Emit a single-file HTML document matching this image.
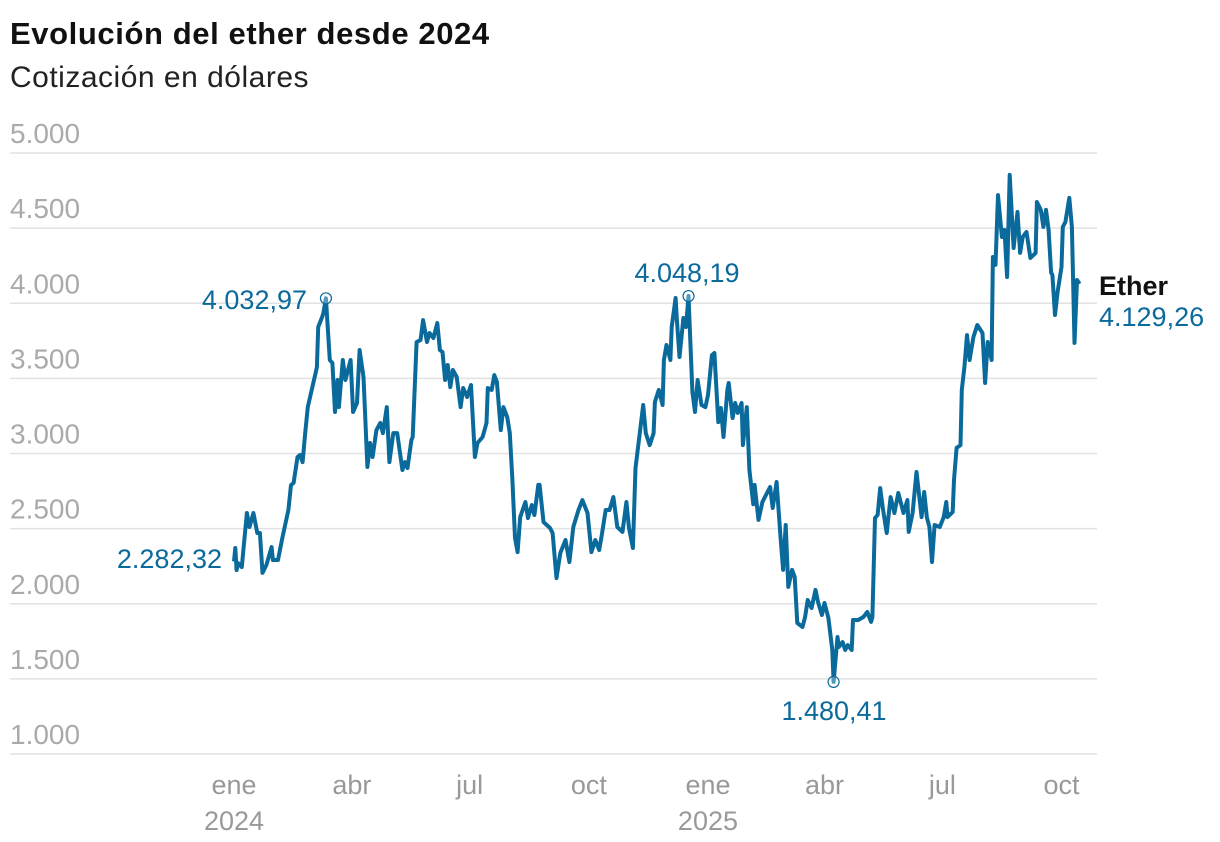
<!DOCTYPE html>
<html lang="es"><head><meta charset="utf-8">
<style>
html,body{margin:0;padding:0;background:#fff;}
body{width:1220px;height:842px;overflow:hidden;font-family:"Liberation Sans",sans-serif;}
svg{display:block;}
</style></head>
<body>
<svg id="chart" width="1220" height="842">
<text x="10" y="44" font-size="31" font-weight="bold" fill="#111" letter-spacing="0.6">Evolución del ether desde 2024</text>
<text x="10" y="87" font-size="30" fill="#222" letter-spacing="0.5">Cotización en dólares</text>
<g id="grid"></g><g id="xaxis"></g><g id="series"></g><g id="annot"></g>
</svg>
<script>
const yTicks=[1000,1500,2000,2500,3000,3500,4000,4500,5000];
const yTickLabels=["1.000","1.500","2.000","2.500","3.000","3.500","4.000","4.500","5.000"];
const xTickDays=[0,91,182,274,366,456,547,639];
const xTickLabels=["ene","abr","jul","oct","ene","abr","jul","oct"];
const xTickYears=["2024","","","","2025","","",""];
const days=[0,1,2,3,6,7,10,12,15,18,20,22,25,29,30,34,37,39,42,44,46,49,51,53,55,57,60,63,64,65,68,69,71,74,76,78,80,81,84,86,90,92,95,97,100,103,105,107,110,113,115,118,120,123,126,130,132,134,137,138,141,144,146,149,151,154,157,159,161,163,165,167,169,172,175,177,180,183,186,188,192,195,196,199,201,203,206,208,211,213,215,217,219,221,225,227,230,232,235,236,239,244,246,249,252,256,259,262,266,269,273,276,279,282,284,287,290,293,296,300,303,305,308,310,313,316,318,321,324,325,328,331,332,334,337,338,341,342,344,347,349,351,354,356,358,361,364,366,369,371,374,376,378,381,382,385,387,389,392,393,396,398,401,402,405,408,412,414,416,419,422,424,426,428,431,433,435,439,441,443,446,449,451,454,456,459,462,463,466,467,470,472,474,477,478,482,486,489,492,493,495,497,499,501,504,507,510,513,517,520,521,524,527,531,533,535,537,539,541,545,548,550,551,555,556,558,561,562,564,566,568,571,574,578,580,582,585,586,588,590,593,595,597,599,602,605,607,609,612,615,619,620,623,625,627,629,631,632,634,636,639,640,642,645,647,649,651,653];
const prices=[2282,2371,2224,2271,2244,2338,2604,2511,2604,2471,2471,2205,2258,2378,2291,2291,2424,2504,2624,2790,2804,2977,2990,2943,3136,3309,3423,3535,3575,3842,3908,3935,4033,3622,3602,3276,3489,3309,3622,3489,3622,3276,3336,3689,3509,2910,3070,2977,3156,3203,3136,3309,2943,3136,3136,2890,2943,2903,3090,3110,3742,3755,3888,3742,3802,3769,3868,3689,3675,3489,3589,3442,3556,3509,3309,3436,3376,3456,2977,3070,3110,3203,3436,3423,3522,3476,3156,3309,3243,3136,2824,2438,2344,2577,2677,2571,2657,2591,2791,2791,2544,2504,2471,2171,2338,2424,2278,2511,2624,2690,2604,2344,2424,2358,2458,2624,2624,2710,2511,2478,2677,2504,2371,2903,3110,3323,3136,3056,3136,3343,3423,3323,3622,3722,3622,3842,4035,3888,3642,3902,3842,4048,3409,3276,3489,3323,3309,3389,3655,3669,3209,3303,3110,3423,3469,3236,3336,3270,3336,3056,3309,2890,2662,2791,2558,2677,2744,2777,2637,2810,2444,2225,2524,2112,2225,2178,1872,1845,1912,2025,1972,2092,2012,1925,2005,1905,1692,1480,1779,1712,1745,1692,1725,1692,1892,1892,1912,1945,1879,1912,2571,2591,2770,2637,2471,2710,2604,2737,2604,2690,2478,2604,2877,2577,2744,2577,2511,2278,2524,2511,2577,2677,2577,2611,2824,3037,3056,3423,3575,3788,3622,3775,3855,3802,3469,3742,3622,4308,4255,4720,4441,4488,4175,4854,4368,4607,4335,4441,4474,4301,4335,4674,4621,4508,4621,4488,4204,4188,3922,4075,4241,4508,4541,4701,4508,3736,4155,4129];
const NS="http://www.w3.org/2000/svg";
function xS(d){return 234+d*1.295;}
function yS(v){return 153+(5000-v)*0.15025;}
function mk(tag,attrs,parent,text){const e=document.createElementNS(NS,tag);for(const k in attrs)e.setAttribute(k,attrs[k]);if(text!==undefined)e.textContent=text;parent.appendChild(e);return e;}
const grid=document.getElementById('grid');
yTicks.forEach((t,i)=>{
  const l=mk('line',{x1:10,x2:1097,y1:yS(t),y2:yS(t),stroke:'#e2e2e2','stroke-width':1.5},grid);
  
  
  const tx=mk('text',{x:10,y:yS(t)-10,'font-size':28,fill:'#aaa'},grid,yTickLabels[i]);
  
  
});
const xa=document.getElementById('xaxis');
xTickDays.forEach((d,i)=>{
  const t=mk('text',{x:xS(d),y:794,'font-size':27,fill:'#999','text-anchor':'middle'},xa,xTickLabels[i]);
  
  
  if(xTickYears[i]){
    const y=mk('text',{x:xS(d),y:830,'font-size':27,fill:'#999','text-anchor':'middle'},xa,xTickYears[i]);
    
    
  }
});
const s=document.getElementById('series');
const pts=days.map((d,i)=>xS(d).toFixed(1)+','+yS(prices[i]).toFixed(1)).join(' ');
const pl=mk('polyline',{points:pts,fill:'none',stroke:'#0a6a9c','stroke-width':4,'stroke-linejoin':'round'},s);


const an=document.getElementById('annot');
function marker(i,lx,ly,anchor,label,name){
  const c=mk('circle',{cx:xS(days[i]),cy:yS(prices[i]),r:5.5,fill:'#fff','fill-opacity':0.3,stroke:'#0a6a9c','stroke-width':1.2},an);
  
  
  const t=mk('text',{x:lx,y:ly,'font-size':27,fill:'#0a6a9c','text-anchor':anchor},an,label);
  
  
}
const iMax1=prices.indexOf(4033),iMax2=prices.indexOf(4048),iMin=prices.indexOf(1480);
marker(iMax1,307,309,'end','4.032,97','peak-2024');
marker(iMax2,687,282,'middle','4.048,19','peak-dec-2024');
marker(iMin,834,720,'middle','1.480,41','low-2025');
const st=mk('text',{x:222,y:568,'font-size':27,fill:'#0a6a9c','text-anchor':'end'},an,'2.282,32');


const e1=mk('text',{x:1099,y:295,'font-size':27,'font-weight':'bold',fill:'#111'},an,'Ether');


const e2=mk('text',{x:1099,y:326,'font-size':27,fill:'#0a6a9c'},an,'4.129,26');


</script>
</body></html>
